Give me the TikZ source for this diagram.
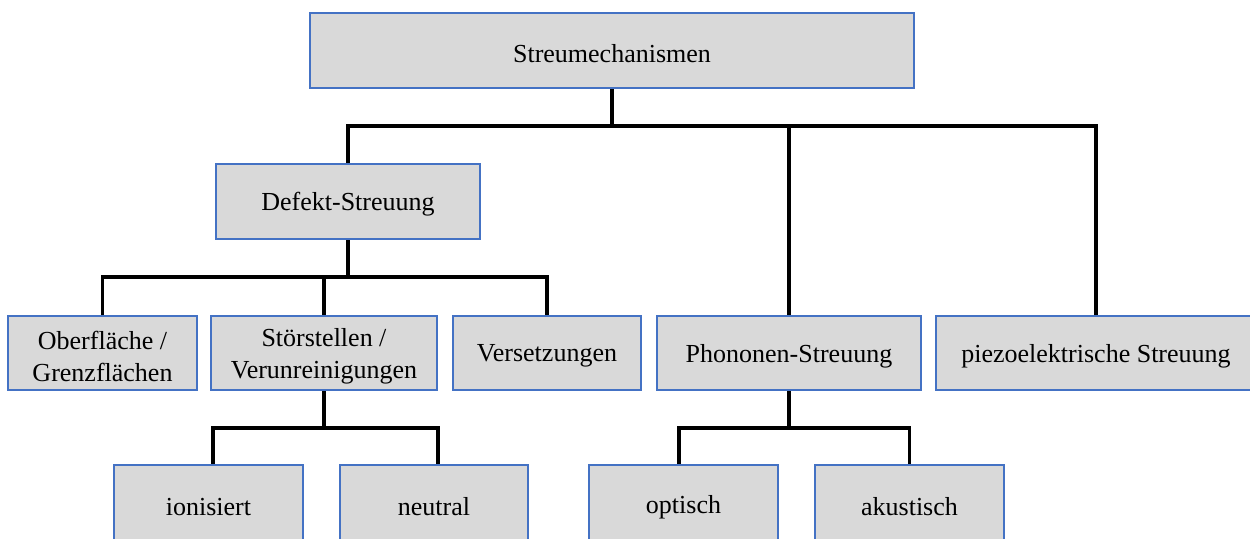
\documentclass[tikz,border=0pt]{standalone}
\usepackage{fontspec}
\setmainfont{Liberation Serif}
\definecolor{boxblue}{HTML}{4472C4}
\definecolor{boxfill}{HTML}{D9D9D9}
\tikzset{
  box/.style={draw=boxblue, fill=boxfill, line width=1.3pt, inner sep=0pt},
  boxtext/.style={align=center, inner sep=0pt, font=\fontsize{13}{16}\selectfont},
  conn/.style={draw=black, line width=1.6pt}
}
\newcommand{\bx}[6]{% name, x1, y1, x2, y2, text
  \node[box, minimum width={(#4-#2)*0.5pt}, minimum height={(#5-#3)*0.5pt}]
    (#1) at ({(#2+#4)/2},{(#3+#5)/2}) {};
  \node[boxtext] (#1-t) at ([yshift=-1.5pt]#1.center) {#6};}
\begin{document}
\begin{tikzpicture}[x=0.5pt,y=-0.5pt]
\useasboundingbox (0,0) rectangle (1250,538);
\clip (0,0) rectangle (1250,538);
\bx{top}{310}{13}{914}{88}{Streumechanismen}
\bx{defekt}{216}{164}{480}{239}{Defekt-Streuung}
\bx{ober}{8}{316}{197}{390}{Oberfläche /\\Grenzflächen}
\bx{stoer}{211}{316}{437}{390}{Störstellen /\\Verunreinigungen}
\bx{vers}{453}{316}{641}{390}{Versetzungen}
\bx{phon}{657}{316}{921}{390}{Phononen-Streuung}
\bx{piezo}{936}{316}{1256}{390}{piezoelektrische Streuung}
\bx{ion}{114}{465}{303}{543}{ionisiert}
\bx{neut}{340}{465}{528}{543}{neutral}
\bx{opt}{589}{465}{778}{543}{optisch}
\bx{aku}{815}{465}{1004}{543}{akustisch}
\coordinate (j1) at (612,126);
\coordinate (j2) at (348,277);
\coordinate (j3) at (324,428);
\coordinate (j4) at (789,428);
\draw[conn] (top.south) -- (j1);
\draw[conn] (defekt.north) |- (j1) -| (piezo.north);
\draw[conn] (j1) -| (phon.north);
\draw[conn] (defekt.south) -- (j2);
\draw[conn] (ober.north) |- (j2) -| (vers.north);
\draw[conn] (j2) -| (stoer.north);
\draw[conn] (stoer.south) -- (j3);
\draw[conn] ([xshift=2.25pt]ion.north) |- (j3) -| ([xshift=2pt]neut.north);
\draw[conn] (phon.south) -- (j4);
\draw[conn] ([xshift=-2.25pt]opt.north) |- (j4) -| (aku.north);
\end{tikzpicture}
\end{document}
